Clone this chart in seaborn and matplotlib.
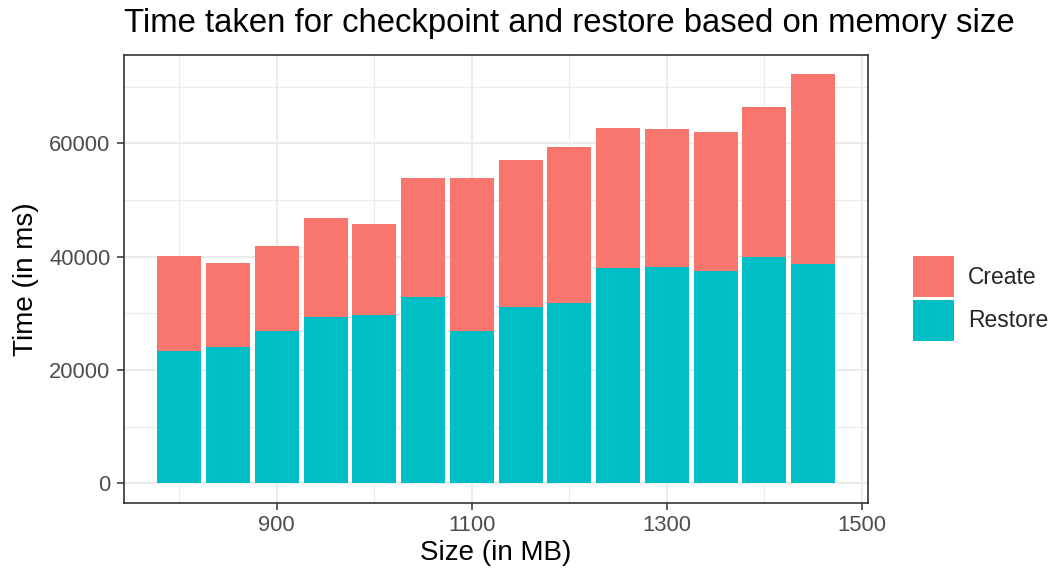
import pandas as pd
import matplotlib
matplotlib.use("Agg")
import matplotlib.pyplot as plt
import seaborn as sns
from matplotlib.ticker import MultipleLocator, FixedLocator

# memory sizes (MB) and timings (ms)
sizes = [800, 850, 900, 950, 1000, 1050, 1100, 1150, 1200, 1250, 1300, 1350, 1400, 1450]
restore_ms = [23400, 24050, 26900, 29400, 29700, 32900, 26900, 31100, 31800,
              37900, 38200, 37500, 40000, 38600]
total_ms = [40160, 38870, 41800, 46800, 45800, 53800, 53950, 57100, 59250,
            62750, 62450, 62000, 66350, 72230]
create_ms = [t - r for t, r in zip(total_ms, restore_ms)]

df = pd.DataFrame({"size": sizes, "Restore": restore_ms, "Create": create_ms})
df["stack_top"] = df["Restore"] + df["Create"]

RED = "#F8766D"
TEAL = "#00BFC4"

sns.set_theme(style="whitegrid")
plt.rcParams["font.family"] = ["Liberation Sans", "DejaVu Sans"]

fig, ax = plt.subplots(figsize=(10.54, 5.72), dpi=100)
fig.subplots_adjust(left=0.1172, right=0.8238, top=0.9044, bottom=0.1211)

# stacked bars: full height in red, restore part on top of it in teal
sns.barplot(data=df, x="size", y="stack_top", native_scale=True, width=0.9,
            color=RED, saturation=1, linewidth=0, errorbar=None, label="Create", ax=ax)
sns.barplot(data=df, x="size", y="Restore", native_scale=True, width=0.9,
            color=TEAL, saturation=1, linewidth=0, errorbar=None, label="Restore", ax=ax)

ax.set_xlim(742.8, 1506.6)
ax.set_ylim(-3450, 75630)

ax.xaxis.set_major_locator(FixedLocator([900, 1100, 1300, 1500]))
ax.xaxis.set_minor_locator(FixedLocator([800, 1000, 1200, 1400]))
ax.yaxis.set_major_locator(MultipleLocator(20000))
ax.yaxis.set_minor_locator(FixedLocator([10000, 30000, 50000, 70000]))

ax.set_axisbelow(True)
ax.grid(which="major", color="#EBEBEB", linewidth=1.45)
ax.grid(which="minor", color="#EBEBEB", linewidth=0.75)
for sp in ax.spines.values():
    sp.set_color("#333333")
    sp.set_linewidth(1.2)

ax.tick_params(axis="both", which="major", length=5, width=1.1, color="#333333",
               labelcolor="#4D4D4D", labelsize=15.8, bottom=True, left=True)
ax.tick_params(axis="x", pad=4)
ax.tick_params(axis="y", pad=4.5)
ax.tick_params(which="minor", length=0)

ax.set_xlabel("Size (in MB)", fontsize=20, color="black", labelpad=2.7)
ax.set_ylabel("Time (in ms)", fontsize=20, color="black", labelpad=7)
ax.set_title("Time taken for checkpoint and restore based on memory size",
             loc="left", fontsize=23.7, color="black", pad=16)

handles, labels = ax.get_legend_handles_labels()
ax.legend(handles, labels, loc="center left", bbox_to_anchor=(0.866, 0.478),
          bbox_transform=fig.transFigure, frameon=False, fontsize=16.5,
          handlelength=1.79, handleheight=2.377, labelspacing=0.1,
          handletextpad=0.61, borderpad=0, borderaxespad=0)

plt.savefig("out.png", dpi=100)
plt.close()
